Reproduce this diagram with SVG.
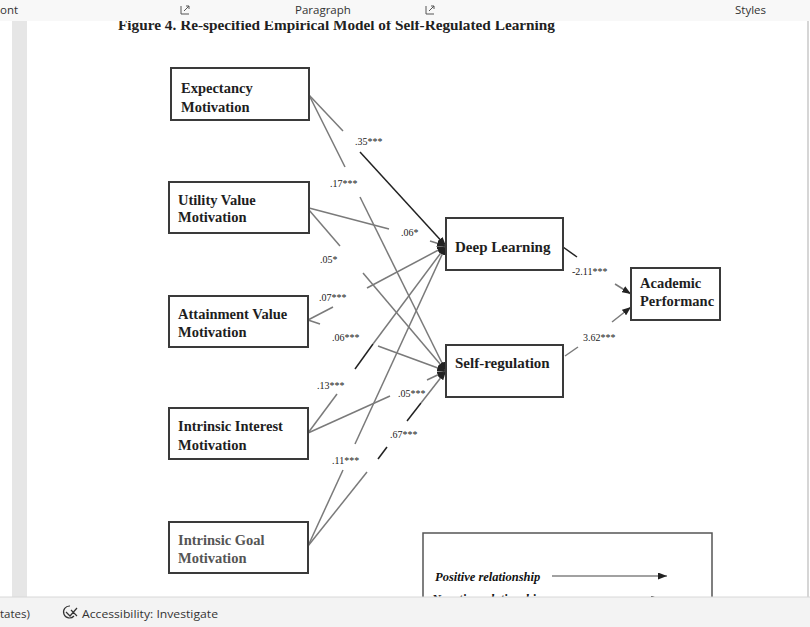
<svg xmlns="http://www.w3.org/2000/svg" width="810" height="627" viewBox="0 0 810 627">
<style>
.box{fill:#fff;stroke:#3a3a3a;stroke-width:2}
.nt{font-family:"Liberation Serif",serif;font-weight:bold;font-size:14.5px;fill:#1e1e1e}
.lb{font-family:"Liberation Serif",serif;font-size:10px;fill:#222}
.ln{stroke:#7a7a7a;stroke-width:1.5;fill:none}
.dk{stroke:#222;stroke-width:1.5;fill:none}
.ui{font-family:"Open Sans","Noto Sans",sans-serif;font-size:11.5px;fill:#333}
.lg{font-family:"Liberation Serif",serif;font-weight:bold;font-style:italic;font-size:12.5px;fill:#111}
</style>
<defs>
<marker id="ah" markerUnits="userSpaceOnUse" markerWidth="9" markerHeight="7" refX="9" refY="3.5" orient="auto">
<path d="M0,0 L9,3.5 L0,7 z" fill="#222"/>
</marker>
<clipPath id="tc"><rect x="0" y="21" width="810" height="20"/></clipPath>
</defs>
<rect width="810" height="627" fill="#fff"/>
<rect x="12" y="20" width="15" height="577" fill="#e6e6e6"/>
<line x1="808" y1="20" x2="808" y2="597" stroke="#c8c8c8" stroke-width="1.5"/>
<g clip-path="url(#tc)">
<text x="118" y="29.5" textLength="437" lengthAdjust="spacingAndGlyphs" style="font-family:'Liberation Serif',serif;font-weight:bold;font-size:15px;fill:#222">Figure 4. Re-specified Empirical Model of Self-Regulated Learning</text>
</g>
<g id="ribbon">
<rect x="0" y="0" width="810" height="21" fill="#f8f8f8"/>
<text class="ui" x="0" y="13.5">ont</text>
<path d="M181,6 v8 h8 M184,11 l5,-5 M186,6 h3 v3" stroke="#555" stroke-width="1" fill="none"/>
<text class="ui" x="295" y="13.5">Paragraph</text>
<path d="M426,6 v8 h8 M429,11 l5,-5 M431,6 h3 v3" stroke="#555" stroke-width="1" fill="none"/>
<text class="ui" x="735" y="13.5">Styles</text>
</g>
<g id="connectors">
<line class="ln" x1="309" y1="95" x2="343" y2="131"/>
<line class="dk" x1="360" y1="152" x2="446" y2="246" marker-end="url(#ah)"/>
<line class="ln" x1="309" y1="95" x2="345" y2="167"/>
<line class="ln" x1="360" y1="197" x2="446" y2="371" marker-end="url(#ah)"/>
<line class="ln" x1="309" y1="208" x2="389" y2="229"/>
<line class="ln" x1="430" y1="241" x2="446" y2="246" marker-end="url(#ah)"/>
<line class="ln" x1="309" y1="210" x2="340" y2="246"/>
<line class="ln" x1="363" y1="273" x2="446" y2="371" marker-end="url(#ah)"/>
<line class="ln" x1="308" y1="320" x2="333" y2="307"/>
<line class="ln" x1="367" y1="288" x2="446" y2="246" marker-end="url(#ah)"/>
<line class="ln" x1="308" y1="320" x2="320" y2="324"/>
<line class="ln" x1="378" y1="346" x2="446" y2="371" marker-end="url(#ah)"/>
<line class="ln" x1="308" y1="433" x2="337" y2="394"/>
<line class="dk" x1="355" y1="369" x2="373" y2="344"/>
<line class="ln" x1="373" y1="344" x2="446" y2="246" marker-end="url(#ah)"/>
<line class="ln" x1="308" y1="433" x2="390" y2="396"/>
<line class="ln" x1="427" y1="380" x2="446" y2="371" marker-end="url(#ah)"/>
<line class="ln" x1="308" y1="546" x2="343" y2="470"/>
<line class="ln" x1="355" y1="444" x2="446" y2="246" marker-end="url(#ah)"/>
<line class="ln" x1="308" y1="546" x2="367" y2="472"/>
<line class="dk" x1="378" y1="459" x2="387" y2="447"/>
<line class="dk" x1="407" y1="421" x2="421" y2="403"/>
<line class="ln" x1="421" y1="403" x2="446" y2="371" marker-end="url(#ah)"/>
<line class="dk" x1="563" y1="247" x2="577" y2="257"/>
<line class="ln" x1="615" y1="284" x2="631" y2="294" marker-end="url(#ah)"/>
<line class="ln" x1="565" y1="356" x2="578" y2="347"/>
<line class="ln" x1="612" y1="322" x2="631" y2="307" marker-end="url(#ah)"/>
</g>
<g id="labels">
<text class="lb" x="355" y="145">.35***</text>
<text class="lb" x="330" y="187">.17***</text>
<text class="lb" x="401" y="236">.06*</text>
<text class="lb" x="320" y="263">.05*</text>
<text class="lb" x="319" y="301">.07***</text>
<text class="lb" x="332" y="341">.06***</text>
<text class="lb" x="317" y="389">.13***</text>
<text class="lb" x="398" y="397">.05***</text>
<text class="lb" x="390" y="438">.67***</text>
<text class="lb" x="332" y="464">.11***</text>
<text class="lb" x="572" y="275">-2.11***</text>
<text class="lb" x="583" y="341">3.62***</text>
</g>
<g id="expectancy">
<rect class="box" x="171" y="68" width="138" height="52"/>
<text class="nt" x="181" y="93">Expectancy</text>
<text class="nt" x="181" y="112">Motivation</text>
</g>
<g id="utility">
<rect class="box" x="169" y="182" width="140" height="51"/>
<text class="nt" x="178" y="205">Utility Value</text>
<text class="nt" x="178" y="222">Motivation</text>
</g>
<g id="attainment">
<rect class="box" x="169" y="296" width="139" height="51"/>
<text class="nt" x="178" y="319">Attainment Value</text>
<text class="nt" x="178" y="337">Motivation</text>
</g>
<g id="interest">
<rect class="box" x="169" y="408" width="139" height="51"/>
<text class="nt" x="178" y="431">Intrinsic Interest</text>
<text class="nt" x="178" y="450">Motivation</text>
</g>
<g id="goal">
<rect class="box" x="169" y="522" width="139" height="51"/>
<text class="nt" x="178" y="545" style="fill:#555">Intrinsic Goal</text>
<text class="nt" x="178" y="563" style="fill:#555">Motivation</text>
</g>
<g id="deep">
<rect class="box" x="446" y="218" width="117" height="52"/>
<text class="nt" x="455" y="252" style="font-size:15px">Deep Learning</text>
</g>
<g id="selfreg">
<rect class="box" x="446" y="345" width="117" height="52"/>
<text class="nt" x="455" y="368" style="font-size:15px">Self-regulation</text>
</g>
<g id="academic">
<rect class="box" x="631" y="268" width="89" height="52"/>
<text class="nt" x="640" y="288">Academic</text>
<text class="nt" x="640" y="306">Performanc</text>
</g>
<g id="legend">
<rect x="423" y="533" width="289" height="80" fill="#fff" stroke="#555" stroke-width="1.5"/>
<text class="lg" x="435" y="581">Positive relationship</text>
<line x1="552" y1="576" x2="667" y2="576" stroke="#444" stroke-width="1.2" marker-end="url(#ah)"/>
<text class="lg" x="432" y="603">Negative relationship</text>
<line x1="600" y1="599" x2="660" y2="599" stroke="#444" stroke-width="1.2" stroke-dasharray="6,4" marker-end="url(#ah)"/>
</g>
<g id="statusbar">
<rect x="0" y="597" width="810" height="30" fill="#f3f3f3"/>
<line x1="0" y1="597" x2="810" y2="597" stroke="#d8d8d8"/>
<text class="ui" x="0" y="618">tates)</text>
<path d="M70,606 a6,6 0 1 0 4,10 M66,612 l4,4 l7,-8 M71,610 l6,6" stroke="#333" stroke-width="1.2" fill="none"/>
<text class="ui" x="82" y="618" textLength="136" lengthAdjust="spacingAndGlyphs">Accessibility: Investigate</text>
</g>
</svg>
